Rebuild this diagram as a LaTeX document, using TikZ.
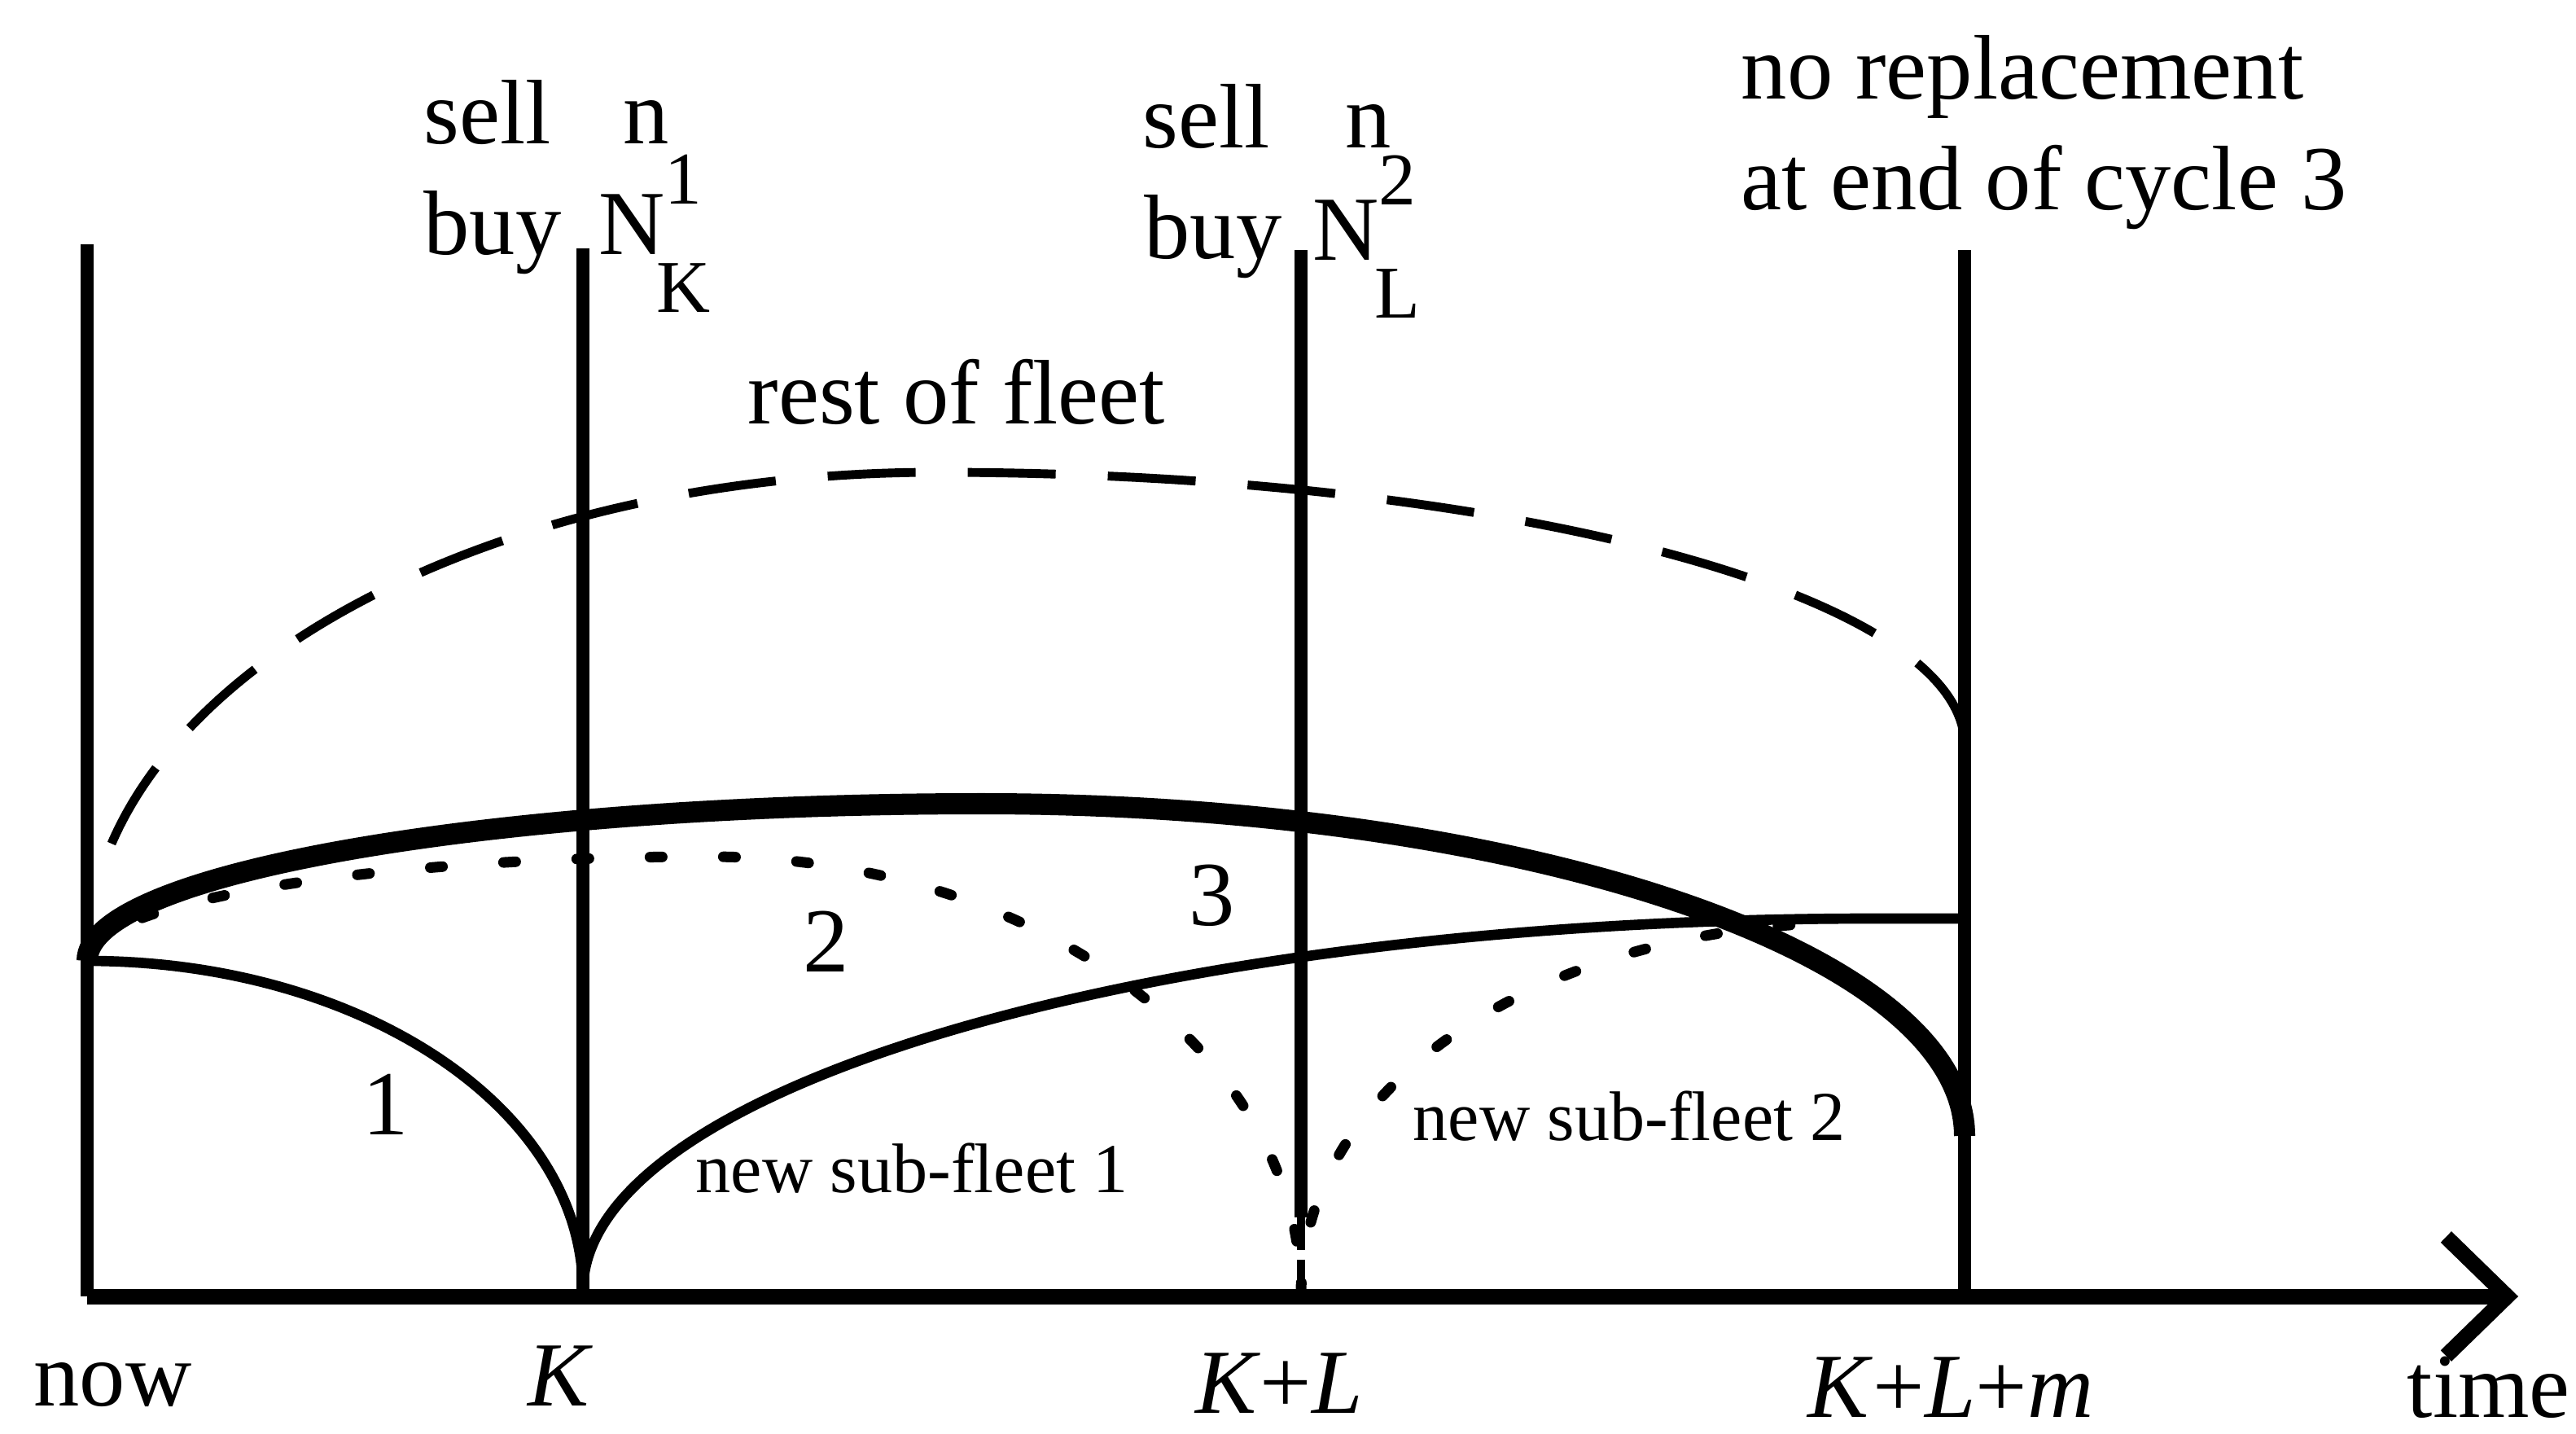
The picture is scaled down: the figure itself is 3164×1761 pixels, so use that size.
\documentclass[tikz,border=0pt]{standalone}
\usepackage{fontspec}
\setmainfont{Liberation Serif}
\usetikzlibrary{arrows.meta,positioning,calc}
\newcommand{\idxfont}{\fontsize{26}{30}\selectfont}

\begin{document}
\begin{tikzpicture}[
  x=0.01cm, y=-0.01cm,
  font=\fontsize{32}{38}\selectfont,
  lbl/.style={inner sep=0pt, anchor=base west},
  mid/.style={inner sep=0pt, anchor=base},
  small/.style={lbl, font=\fontsize{24.5}{29}\selectfont},
  tick/.style={line width=4.3pt},
  axis/.style={line width=5.4pt, -{Straight Barb[length=7.5mm, width=14.6mm]}},
  life/.style={line width=3.6pt},
  fleet/.style={line width=7.4pt},
  rest/.style={line width=3.1pt, dash pattern=on 1.08cm off 0.64cm},
  sub/.style={line width=3.7pt, line cap=round, dash pattern=on 0.15cm off 0.75cm}
]
\useasboundingbox (0,0) rectangle (3164,1761);

% time points
\coordinate (S)   at (107,1180);
\coordinate (O)   at (107,1592);
\coordinate (K)   at (716,1592);
\coordinate (KL)  at (1598,1592);
\coordinate (KLm) at (2413,1592);
\coordinate (tip) at (3093,1592);

\draw[tick] (107,300) -- (O);
\draw[tick] (716,305) -- (K);
\draw[tick] (1598,307) -- (1598,1495);
\draw[line width=2.6pt, dash pattern=on 0.4cm off 0.12cm] (1598,1495) -- (KL);
\draw[tick] (2413,307) -- (KLm);
\draw[axis] (O) -- (tip);

% rest of fleet
\draw[rest] (137,1036) .. controls (250,774) and (660,580) .. (1150,580)
                       .. controls (1848,580) and (2413,730) .. (2413,915);
% whole fleet
\draw[fleet] (S) .. controls (107,1073) and (599,987) .. (1206,987)
                 .. controls (1872,987) and (2413,1170) .. (2413,1395);
% sub-fleets
\draw[life] (S) .. controls (443,1180) and (716,1361) .. (716,1585);
\draw[life] (716,1585) .. controls (716,1333) and (1425,1128) .. (2300,1128) -- (2413,1128);
\draw[sub] (S) .. controls (107,1109) and (449,1052) .. (870,1052)
               .. controls (1272,1052) and (1598,1293) .. (1598,1590);
\draw[sub] (1598,1590) .. controls (1598,1335) and (1880,1150) .. (2230,1134);

% labels
\node[lbl] (sell1) at (520,177) {sell};
\node[lbl] (n1)    at (765,177) {n};
\node[lbl] (buy1)  at (520,313) {buy};
\node[lbl] (N1)    at (735,313) {N\rlap{\raisebox{0.62cm}{\idxfont 1}}\kern-0.1cm\raisebox{-0.7cm}{\idxfont K}};
\node[lbl] (sell2) at (1403,182) {sell};
\node[lbl] (n2)    at (1652,182) {n};
\node[lbl] (buy2)  at (1405,318) {buy};
\node[lbl] (N2)    at (1612,320) {N\rlap{\raisebox{0.68cm}{\idxfont 2}}\kern-0.05cm\raisebox{-0.7cm}{\idxfont L}};
\node[lbl] (norep) at (2138,122) {no replacement};
\node[lbl] (cyc3)  at (2138,258) {at end of cycle 3};
\node[lbl] (rest)  at (918,520) {rest of fleet};

\node[inner sep=0pt] (c1) at (474,1356) {1};
\node[inner sep=0pt] (c2) at (1015,1156) {2};
\node[inner sep=0pt] (c3) at (1489,1100) {3};
\node[small] (new1) at (854,1464) {new sub-fleet 1};
\node[small] (new2) at (1735,1400) {new sub-fleet 2};

\node[lbl] (now)  at (41,1726) {now};
\node[mid] (tK)   at (688,1726) {\textit{K}};
\node[mid] (tKL)  at (1571,1735) {\textit{K}+\textit{L}};
\node[mid] (tKLm) at (2396,1740) {\textit{K}+\textit{L}+\textit{m}};
\node[lbl] (time) at (2956,1740) {time};
\end{tikzpicture}
\end{document}
